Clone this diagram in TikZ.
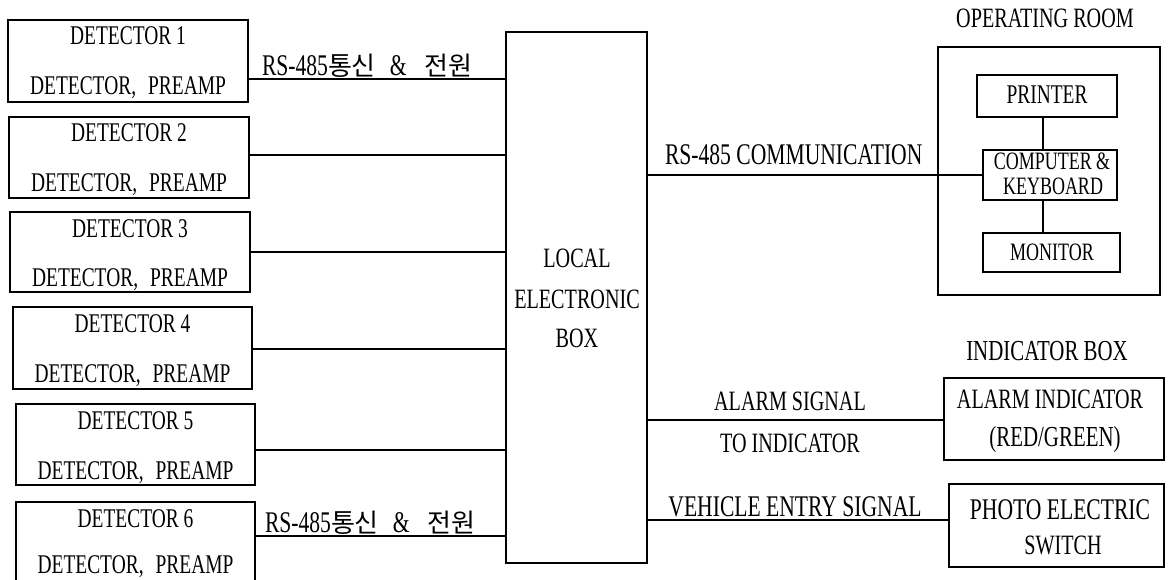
\documentclass[tikz,border=0pt]{standalone}
\usepackage{fontspec}
\setmainfont{Liberation Serif}[FakeStretch=0.72]
\newfontfamily\krfont{Noto Sans CJK KR}
\newcommand\fz[1]{\fontsize{#1}{#1}\selectfont}
\newcommand\rslabel{{\fz{30}RS-485{\krfont\fz{26}통신}\hspace{14pt}\&\hspace{18pt}{\krfont\fz{26}전원}}}
\tikzset{
  bx/.style={draw, line width=1.1pt, inner sep=0pt, outer sep=0pt},
  tx/.style={anchor=base, inner sep=0pt, outer sep=0pt, font=\fz{27}},
  ln/.style={line width=1.1pt},
}
\begin{document}
\begin{tikzpicture}[x=1pt,y=-1pt]
\path[use as bounding box] (0,0) rectangle (1170,580);
\clip (0,0) rectangle (1170,580);

% detector boxes
\node[bx, minimum width=240pt, minimum height=82pt] (D1) at (128,61) {};
\node[bx, minimum width=240pt, minimum height=81pt] (D2) at (129,157.5) {};
\node[bx, minimum width=240pt, minimum height=80pt] (D3) at (130,252) {};
\node[bx, minimum width=239pt, minimum height=82pt] (D4) at (132.5,348) {};
\node[bx, minimum width=239pt, minimum height=81pt] (D5) at (135.5,444.5) {};
\node[bx, minimum width=239pt, minimum height=81pt] (D6) at (135.5,542.5) {};

\node[tx] (D1a) at (128,45) {DETECTOR 1};
\node[tx] (D1b) at (128,95) {DETECTOR,\hspace{12pt}PREAMP};
\node[tx] (D2a) at (129,142) {DETECTOR 2};
\node[tx] (D2b) at (129,192) {DETECTOR,\hspace{12pt}PREAMP};
\node[tx] (D3a) at (130,237) {DETECTOR 3};
\node[tx] (D3b) at (130,287) {DETECTOR,\hspace{12pt}PREAMP};
\node[tx] (D4a) at (132.5,332) {DETECTOR 4};
\node[tx] (D4b) at (132.5,382) {DETECTOR,\hspace{12pt}PREAMP};
\node[tx] (D5a) at (135.5,429) {DETECTOR 5};
\node[tx] (D5b) at (135.5,479) {DETECTOR,\hspace{12pt}PREAMP};
\node[tx] (D6a) at (135.5,527) {DETECTOR 6};
\node[tx] (D6b) at (135.5,573) {DETECTOR,\hspace{12pt}PREAMP};

% local electronic box
\node[bx, minimum width=141pt, minimum height=531pt] (LEB) at (576.5,297.5) {};
\node[tx, font=\fz{28}] (LEBa) at (577,268) {LOCAL};
\node[tx, font=\fz{28}] (LEBb) at (577,308) {ELECTRONIC};
\node[tx, font=\fz{28}] (LEBc) at (577,347) {BOX};

% detector connectors
\coordinate (y1) at (0,79);
\coordinate (y2) at (0,155);
\coordinate (y3) at (0,252);
\coordinate (y4) at (0,349);
\coordinate (y5) at (0,450);
\coordinate (y6) at (0,536);
\draw[ln] (D1.east |- y1) -- (LEB.west |- y1);
\draw[ln] (D2.east |- y2) -- (LEB.west |- y2);
\draw[ln] (D3.east |- y3) -- (LEB.west |- y3);
\draw[ln] (D4.east |- y4) -- (LEB.west |- y4);
\draw[ln] (D5.east |- y5) -- (LEB.west |- y5);
\draw[ln] (D6.east |- y6) -- (LEB.west |- y6);
\node[tx, anchor=base west] (L1) at (262,76) {\rslabel};
\node[tx, anchor=base west] (L6) at (265,532) {\rslabel};

% operating room
\node[tx, font=\fz{28}] (ORt) at (1045,28) {OPERATING ROOM};
\node[bx, minimum width=222pt, minimum height=248pt] (OR) at (1049,171) {};
\node[bx, minimum width=140pt, minimum height=42pt] (PRN) at (1047,96) {};
\node[tx] (PRNt) at (1047,104) {PRINTER};
\node[bx, minimum width=134pt, minimum height=50pt] (CMP) at (1050,175) {};
\node[tx, font=\fz{25}] (CMPa) at (1052,170) {COMPUTER \&};
\node[tx, font=\fz{25}] (CMPb) at (1053,195) {KEYBOARD};
\node[bx, minimum width=137pt, minimum height=39pt] (MON) at (1051.5,252.5) {};
\node[tx, font=\fz{25}] (MONt) at (1052,261) {MONITOR};
\coordinate (xv) at (1043,0);
\draw[ln] (PRN.south -| xv) -- (CMP.north -| xv);
\draw[ln] (CMP.south -| xv) -- (MON.north -| xv);
\draw[ln] (LEB.east |- CMP.west) -- (CMP.west);
\node[tx, anchor=base west, font=\fz{30}] (COMM) at (665,165) {RS-485 COMMUNICATION};

% indicator box
\node[tx, font=\fz{29}] (INDt) at (1047,360) {INDICATOR BOX};
\node[bx, minimum width=220pt, minimum height=82pt] (ALM) at (1054,419) {};
\node[tx, font=\fz{28}] (ALMa) at (1050,408) {ALARM INDICATOR};
\node[tx, font=\fz{29}] (ALMb) at (1055,446) {(RED/GREEN)};
\coordinate (ya) at (0,420);
\draw[ln] (LEB.east |- ya) -- (ALM.west |- ya);
\node[tx, font=\fz{28}] (ASa) at (790,410) {ALARM SIGNAL};
\node[tx, font=\fz{28}] (ASb) at (790,452) {TO INDICATOR};

% photo electric switch
\node[bx, minimum width=215pt, minimum height=83pt] (PHO) at (1056.5,525.5) {};
\node[tx, font=\fz{30}] (PHOa) at (1060,519) {PHOTO ELECTRIC};
\node[tx, font=\fz{28}] (PHOb) at (1063,554) {SWITCH};
\coordinate (yp) at (0,520);
\draw[ln] (LEB.east |- yp) -- (PHO.west |- yp);
\node[tx, font=\fz{30}] (VES) at (795,516) {VEHICLE ENTRY SIGNAL};
\end{tikzpicture}
\end{document}
